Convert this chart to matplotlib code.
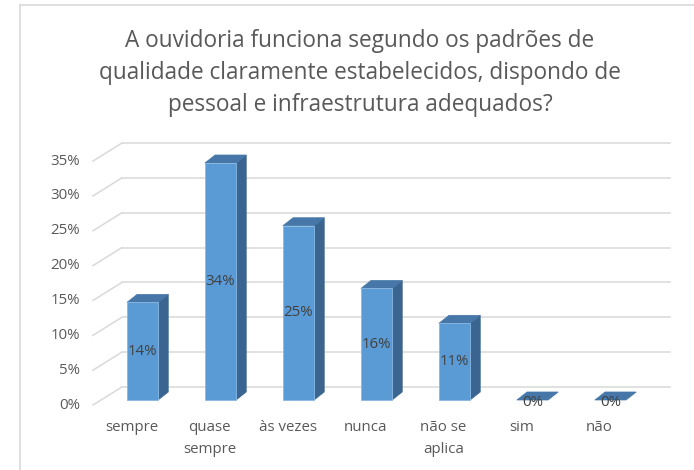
import matplotlib
matplotlib.use("Agg")
import matplotlib.pyplot as plt
from matplotlib.patches import Polygon
from matplotlib.lines import Line2D

categories = ["sempre", "quase\nsempre", "às vezes", "nunca", "não se\naplica", "sim", "não"]
values = [14, 34, 25, 16, 11, 0, 0]
value_labels = ["14%", "34%", "25%", "16%", "11%", "0%", "0%"]
yticks = [0, 5, 10, 15, 20, 25, 30, 35]
ytick_labels = ["0%", "5%", "10%", "15%", "20%", "25%", "30%", "35%"]
title = "A ouvidoria funciona segundo os padrões de\nqualidade claramente estabelecidos, dispondo de\npessoal e infraestrutura adequados?"

FONT = ["Open Sans", "DejaVu Sans"]
W, H = 694, 470
fig = plt.figure(figsize=(W / 100, H / 100), dpi=100)

# pixel mapping: x_px = 142.5 + 78*x, y_px = 400 - 6.97*y
sx, x0 = 78.0, 142.5
sy, y0 = 6.97, 400.0
xlim = (-1.2, 6.85)
ylim = (-4.0, 39.5)
left_px = x0 + xlim[0] * sx
right_px = x0 + xlim[1] * sx
bot_px = y0 - ylim[0] * sy
top_px = y0 - ylim[1] * sy
ax = fig.add_axes([left_px / W, 1 - bot_px / H, (right_px - left_px) / W, (bot_px - top_px) / H])
ax.set_xlim(*xlim)
ax.set_ylim(*ylim)
ax.axis("off")

# plane offsets
front_dx, front_dy = -0.10, -0.72
back_dx, back_dy = 0.27, 1.86
x_front_left = -0.635
x_back_right = 6.76
bar_w = 0.40
bar_dx, bar_dy = 0.13, 1.15

grid_c = "#D9D9D9"
for t in yticks:
    yf = t + front_dy
    yb = t + back_dy
    xbl = x_front_left + (back_dx - front_dx)
    ax.plot([x_front_left, xbl], [yf, yb], color=grid_c, lw=1.1, clip_on=False, zorder=1)
    ax.plot([xbl, x_back_right], [yb, yb], color=grid_c, lw=1.1, clip_on=False, zorder=1)

for t, lab in zip(yticks, ytick_labels):
    ax.text(-0.80, t + front_dy, lab, ha="right", va="center", fontsize=10.8,
            color="#595959", family=FONT)

front_c = "#5B9BD5"
side_c = "#3A6590"
top_c = "#4677A8"
for i, v in enumerate(values):
    xl, xr = i - bar_w / 2, i + bar_w / 2
    if v > 0:
        ax.add_patch(Polygon([(xr, 0), (xr + bar_dx, bar_dy), (xr + bar_dx, v + bar_dy), (xr, v)],
                             closed=True, facecolor=side_c, edgecolor=side_c, lw=0.5, zorder=3))
        ax.add_patch(Polygon([(xl, v), (xr, v), (xr + bar_dx, v + bar_dy), (xl + bar_dx, v + bar_dy)],
                             closed=True, facecolor=top_c, edgecolor=top_c, lw=0.5, zorder=3))
        ax.add_patch(Polygon([(xl, 0), (xr, 0), (xr, v), (xl, v)], closed=True,
                             facecolor=front_c, edgecolor="#8DB8E2", lw=0.6, zorder=4))
    else:
        ax.add_patch(Polygon([(xl, 0), (xr, 0), (xr + bar_dx, bar_dy), (xl + bar_dx, bar_dy)],
                             closed=True, facecolor=top_c, edgecolor=top_c, lw=0.5, zorder=3))
    ax.text(i, v / 2 - (0.3 if v == 0 else 0), value_labels[i], ha="center", va="center",
            fontsize=10.8, color="#404040", family=FONT, zorder=5)

for i, c in enumerate(categories):
    ax.text(i + front_dx - 0.04, front_dy - 2.2, c, ha="center", va="top", fontsize=10.8,
            color="#595959", family=FONT, linespacing=1.6)

fig.text(360 / W, 1 - 73 / H, title, ha="center", va="center", fontsize=16.3,
         color="#595959", family=FONT, linespacing=1.42)

# chart border
fig.add_artist(Line2D([20 / W, 20 / W], [0, 1 - 5 / H], color="#D9D9D9", lw=1.2))
fig.add_artist(Line2D([20 / W, 1], [1 - 5 / H, 1 - 5 / H], color="#D9D9D9", lw=1.2))

fig.savefig("out.png", dpi=100, facecolor="white")
